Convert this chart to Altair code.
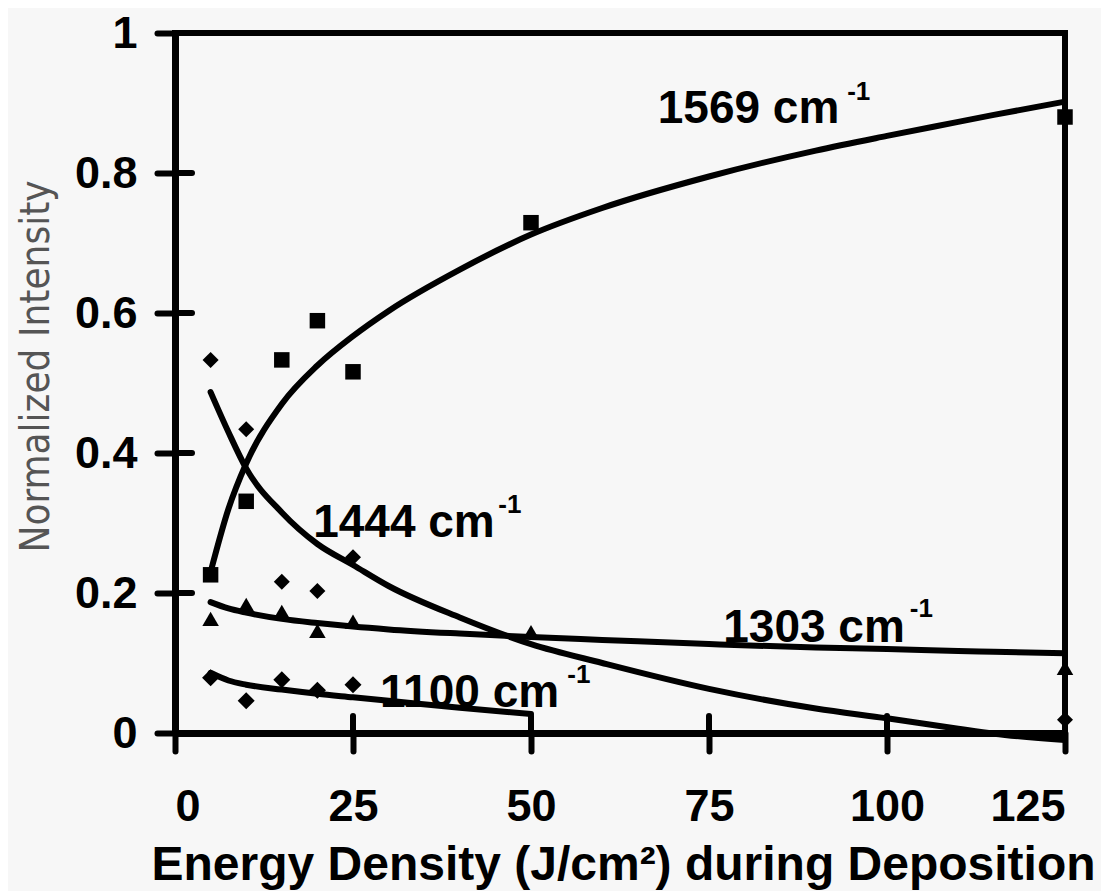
import altair as alt
import pandas as pd

# ---- measured data points ----
x_pts = [5, 10, 15, 20, 25, 50, 125]
y1569 = [0.226, 0.331, 0.533, 0.589, 0.516, 0.729, 0.880]
x1444 = [5, 10, 15, 20, 25, 125]
y1444 = [0.533, 0.434, 0.216, 0.203, 0.251, 0.019]
y1303 = [0.163, 0.183, 0.173, 0.146, 0.159, 0.144, 0.093]
x1100 = [5, 10, 15, 20, 25]
y1100 = [0.079, 0.046, 0.076, 0.061, 0.069]

# ---- trend curves ----
cx_long = [5, 7.5, 10, 15, 20, 25, 30, 40, 50, 60, 75, 90, 100, 110, 115, 125]
c1569 = [0.23, 0.32, 0.385, 0.47, 0.525, 0.567, 0.603, 0.662, 0.712, 0.75, 0.795, 0.832, 0.853, 0.873, 0.883, 0.902]
c1444 = [0.487, 0.43, 0.378, 0.315, 0.27, 0.24, 0.21, 0.165, 0.127, 0.10, 0.063, 0.035, 0.021, 0.006, -0.001, -0.01]
c1303 = [0.187, 0.178, 0.172, 0.163, 0.157, 0.152, 0.148, 0.142, 0.137, 0.133, 0.127, 0.122, 0.12, 0.117, 0.116, 0.114]
cx_short = [5, 7.5, 10, 15, 20, 25, 30, 40, 50]
c1100 = [0.086, 0.075, 0.069, 0.062, 0.056, 0.051, 0.046, 0.036, 0.027]

# ---- labels ----
lab_text = ["1569 cm", "1444 cm", "1303 cm", "1100 cm"]
lab_x = [67.8, 19.4, 77.0, 28.8]
lab_y = [0.871, 0.28, 0.13, 0.037]
sup_text = ["-1", "-1", "-1", "-1"]
sup_x = [94.4, 45.4, 103.2, 55.1]
sup_y = [0.904, 0.314, 0.166, 0.071]

x_ticks = [0, 25, 50, 75, 100, 125]
y_ticks = [0, 0.2, 0.4, 0.6, 0.8, 1]
x_inner = [25, 50, 75, 100]
y_inner = [0.2, 0.4, 0.6, 0.8]

W, H = 890, 700
NARROW = "'Liberation Sans Narrow', 'DejaVu Sans Condensed', 'Roboto Condensed', sans-serif"

rows = []
for x, y in zip(x_pts, y1569):
    rows.append({"x": x, "y": y, "s": "1569"})
for x, y in zip(x1444, y1444):
    rows.append({"x": x, "y": y, "s": "1444"})
for x, y in zip(x_pts, y1303):
    rows.append({"x": x, "y": y, "s": "1303"})
for x, y in zip(x1100, y1100):
    rows.append({"x": x, "y": y, "s": "1100"})
pts = pd.DataFrame(rows)

crows = []
for name, xs, ys in [("1569", cx_long, c1569), ("1444", cx_long, c1444),
                     ("1303", cx_long, c1303), ("1100", cx_short, c1100)]:
    for x, y in zip(xs, ys):
        crows.append({"x": x, "y": y, "s": name})
curves = pd.DataFrame(crows)

labs = pd.DataFrame({"x": lab_x, "y": lab_y, "t": lab_text})
sups = pd.DataFrame({"x": sup_x, "y": sup_y, "t": sup_text})

xscale = alt.Scale(domain=[0, 125], nice=False)
yscale = alt.Scale(domain=[0, 1], nice=False)

xaxis = alt.Axis(values=x_ticks, title="Energy Density (J/cm²) during Deposition",
                 labelFontSize=45, labelFontWeight="bold", labelPadding=33,
                 titleFontSize=48, titleFontWeight="bold", titleX=W / 2 + 3, titleY=146,
                 titleBaseline="alphabetic", titleAlign="center", grid=False)
yaxis = alt.Axis(values=y_ticks, format=".1~f", title="Normalized Intensity",
                 labelFontSize=45, labelFontWeight="bold", labelPadding=20,
                 titleFont=NARROW, titleFontSize=40, titleFontWeight=300,
                 titleColor="#555555", titleAngle=270, titleX=-127, titleY=333,
                 titleBaseline="alphabetic", titleAlign="center", grid=False)

lines = alt.Chart(curves).mark_line(color="black", strokeWidth=6, interpolate="monotone",
                                    strokeCap="round").encode(
    x=alt.X("x:Q", scale=xscale, axis=xaxis),
    y=alt.Y("y:Q", scale=yscale, axis=yaxis),
    detail="s:N",
)

points = alt.Chart(pts).mark_point(filled=True, color="black", opacity=1).encode(
    x=alt.X("x:Q", scale=xscale),
    y=alt.Y("y:Q", scale=yscale),
    shape=alt.Shape("s:N", scale=alt.Scale(domain=["1569", "1444", "1303", "1100"],
                                            range=["square", "diamond", "triangle-up", "diamond"]),
                    legend=None),
    size=alt.Size("s:N", scale=alt.Scale(domain=["1569", "1444", "1303", "1100"],
                                          range=[240, 290, 230, 260]), legend=None),
)

texts = alt.Chart(labs).mark_text(align="left", baseline="alphabetic", fontSize=46,
                                  fontWeight="bold", color="black").encode(
    x=alt.X("x:Q", scale=xscale), y=alt.Y("y:Q", scale=yscale), text="t:N")
suptexts = alt.Chart(sups).mark_text(align="left", baseline="alphabetic", fontSize=26,
                                     fontWeight="bold", color="black").encode(
    x=alt.X("x:Q", scale=xscale), y=alt.Y("y:Q", scale=yscale), text="t:N")

xin = alt.Chart(pd.DataFrame({"v": x_inner})).mark_rule(color="black", strokeWidth=6,
                                                        strokeCap="round").encode(
    x=alt.X("v:Q", scale=xscale), y=alt.value(H), y2=alt.value(H - 17))
yin = alt.Chart(pd.DataFrame({"v": y_inner})).mark_rule(color="black", strokeWidth=6,
                                                        strokeCap="round").encode(
    y=alt.Y("v:Q", scale=yscale), x=alt.value(0), x2=alt.value(17))

chart = alt.layer(lines, points, texts, suptexts, xin, yin).properties(
    width=W, height=H,
    autosize=alt.AutoSizeParams(type="none"),
    padding={"left": 167, "top": 25, "right": 36, "bottom": 158},
    background="#f7f7f7",
).configure_view(
    stroke="black", strokeWidth=6
).configure_axis(
    domainColor="black", domainWidth=7, tickColor="black", tickWidth=6, tickSize=18,
    tickCap="round", labelColor="black", titleColor="black", labelFont="Liberation Sans",
    titleFont="Liberation Sans"
).configure_axisY(
    titleColor="#555555", titleFont=NARROW
).configure_text(font="Liberation Sans")

chart.save("out.html", embed_options={"renderer": "svg", "actions": False})
